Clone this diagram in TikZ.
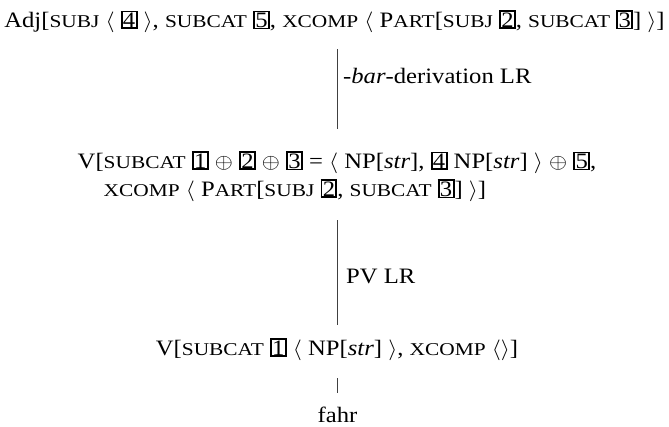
\documentclass[tikz,border=0pt]{standalone}
\usepackage{fontspec}
\usepackage{graphicx}
\setmainfont{Liberation Serif}
\newcommand\fsc[1]{{\fontsize{18}{18}\selectfont\scalebox{1.06}[1]{\MakeUppercase{#1}}}}
\newcommand\tagbox[1]{{\setlength\fboxsep{0.3pt}\setlength\fboxrule{1.7pt}\fbox{#1}}}
\newcommand\wide[1]{\scalebox{1.12}[1]{#1}}
\tikzset{
  avm/.style={inner sep=0pt, outer sep=0pt, font=\fontsize{22}{28}\selectfont},
  lbl/.style={inner sep=0pt, anchor=base west, font=\fontsize{22}{28}\selectfont},
  edge/.style={draw=black!75, line width=0.8pt}
}
\begin{document}
\begin{tikzpicture}[x=1pt,y=1pt]
\useasboundingbox (0,0) rectangle (669,-426);
\node[avm, anchor=base] (adj) at (334.5,-27)
  {\wide{Adj[\fsc{subj} $\langle$ \tagbox{4} $\rangle$, \fsc{subcat} \tagbox{5}, \fsc{xcomp} $\bigl\langle$ P\fsc{art}[\fsc{subj} \tagbox{2}, \fsc{subcat} \tagbox{3}] $\bigr\rangle$]}};
\node[avm, anchor=base] (v1) at (337,-168)
  {\wide{V[\begin{tabular}[t]{@{}l@{}}
   \fsc{subcat} \tagbox{1} $\oplus$ \tagbox{2} $\oplus$ \tagbox{3} = $\langle$ NP[\textit{str}], \tagbox{4} NP[\textit{str}] $\rangle$ $\oplus$ \tagbox{5},\\
   \fsc{xcomp} $\bigl\langle$ P\fsc{art}[\fsc{subj} \tagbox{2}, \fsc{subcat} \tagbox{3}] $\bigr\rangle$]
   \end{tabular}}};
\node[avm, anchor=base] (v2) at (337,-355)
  {\wide{V[\fsc{subcat} \tagbox{1} $\langle$ NP[\textit{str}] $\rangle$, \fsc{xcomp} $\langle\rangle$]}};
\node[avm, anchor=base] (fahr) at (337.5,-422) {\wide{fahr}};
\coordinate (e1a) at (337.5,-49);
\coordinate (e1b) at (337.5,-129);
\coordinate (e2a) at (337.5,-220);
\coordinate (e2b) at (337.5,-325);
\coordinate (e3a) at (337.5,-378);
\coordinate (e3b) at (337.5,-393);
\draw[edge] (e1a) -- (e1b);
\draw[edge] (e2a) -- (e2b);
\draw[edge] (e3a) -- (e3b);
\node[lbl] (l1) at (343,-83) {\wide{-\textit{bar}-derivation LR}};
\node[lbl] (l2) at (346,-283) {\wide{PV LR}};
\end{tikzpicture}
\end{document}
